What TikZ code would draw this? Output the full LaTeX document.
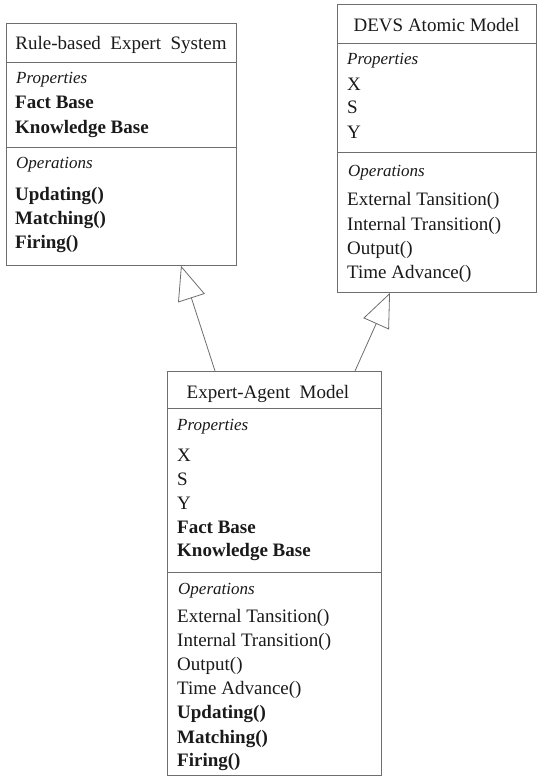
\documentclass[tikz,border=0pt]{standalone}
\usepackage{fontspec}
\setmainfont{Liberation Serif}
\usetikzlibrary{arrows.meta,calc}
\definecolor{linegray}{HTML}{6E6E6E}
\definecolor{textblack}{HTML}{1A1A1A}
\begin{document}
\begin{tikzpicture}[x=1pt,y=-1pt,
  box/.style={draw=linegray,line width=0.8pt,rectangle,inner sep=0pt,anchor=north west},
  sep/.style={draw=linegray,line width=0.8pt},
  ttl/.style={inner sep=0pt,anchor=base,font=\fontsize{19}{23}\selectfont,text=textblack},
  lbl/.style={inner sep=0pt,anchor=base west,font=\fontsize{17}{20}\selectfont\itshape,text=textblack},
  itm/.style={inner sep=0pt,anchor=base west,font=\fontsize{19}{23}\selectfont,text=textblack},
  bitm/.style={inner sep=0pt,anchor=base west,font=\fontsize{19}{23}\selectfont\bfseries,text=textblack},
  gen/.style={draw=linegray,line width=0.8pt,-{Triangle[open,length=34pt,width=28pt]}}]
\useasboundingbox (0,0) rectangle (542,776);
\fill[white] (0,0) rectangle (542,776);

% Rule-based Expert System
\node[box,minimum width=230pt,minimum height=242pt] (rb) at (6,23) {};
\node[ttl] (rbt) at (121,49) {Rule-based\hspace{0.25em} Expert\hspace{0.25em} System};
\draw[sep] (rb.west |- 0,62) -- (rb.east |- 0,62);
\node[lbl] (rbp) at (16,83) {Properties};
\node[bitm] (rb1) at (15,108) {Fact Base};
\node[bitm] (rb2) at (15,133) {Knowledge Base};
\draw[sep] (rb.west |- 0,147) -- (rb.east |- 0,147);
\node[lbl] (rbo) at (16,168) {Operations};
\node[bitm] (rb3) at (15,200) {Updating()};
\node[bitm] (rb4) at (15,224) {Matching()};
\node[bitm] (rb5) at (15,248) {Firing()};

% DEVS Atomic Model
\node[box,minimum width=199pt,minimum height=288pt] (devs) at (337,4) {};
\node[ttl] (devst) at (436.5,32) {DEVS Atomic Model};
\draw[sep] (devs.west |- 0,43) -- (devs.east |- 0,43);
\node[lbl] (devsp) at (347,65) {Properties};
\node[itm] (dv1) at (347,90) {X};
\node[itm] (dv2) at (347,113) {S};
\node[itm] (dv3) at (347,138) {Y};
\draw[sep] (devs.west |- 0,152) -- (devs.east |- 0,152);
\node[lbl] (devso) at (348,176) {Operations};
\node[itm] (dv4) at (347,205) {External Tansition()};
\node[itm] (dv5) at (347,230) {Internal Transition()};
\node[itm] (dv6) at (347,254) {Output()};
\node[itm] (dv7) at (347,278) {Time Advance()};

% Expert-Agent Model
\node[box,minimum width=214pt,minimum height=404pt] (ea) at (167,371) {};
\node[ttl] (eat) at (268,398) {Expert-Agent\hspace{0.25em} Model};
\draw[sep] (ea.west |- 0,408) -- (ea.east |- 0,408);
\node[lbl] (eap) at (177,430) {Properties};
\node[itm] (ea1) at (177,461) {X};
\node[itm] (ea2) at (177,485) {S};
\node[itm] (ea3) at (177,509) {Y};
\node[bitm] (ea4) at (177,533) {Fact Base};
\node[bitm] (ea5) at (177,556) {Knowledge Base};
\draw[sep] (ea.west |- 0,572) -- (ea.east |- 0,572);
\node[lbl] (eao) at (178,594) {Operations};
\node[itm] (ea6) at (177,622) {External Tansition()};
\node[itm] (ea7) at (177,646) {Internal Transition()};
\node[itm] (ea8) at (177,670) {Output()};
\node[itm] (ea9) at (177,694) {Time Advance()};
\node[bitm] (ea10) at (177,718) {Updating()};
\node[bitm] (ea11) at (177,743) {Matching()};
\node[bitm] (ea12) at (177,766) {Firing()};

% generalisation arrows
\draw[gen] ($(ea.north west)+(48,0)$) -- ($(rb.south west)+(175,0)$);
\draw[gen] ($(ea.north west)+(188,0)$) -- ($(devs.south west)+(53,0)$);
\end{tikzpicture}
\end{document}
